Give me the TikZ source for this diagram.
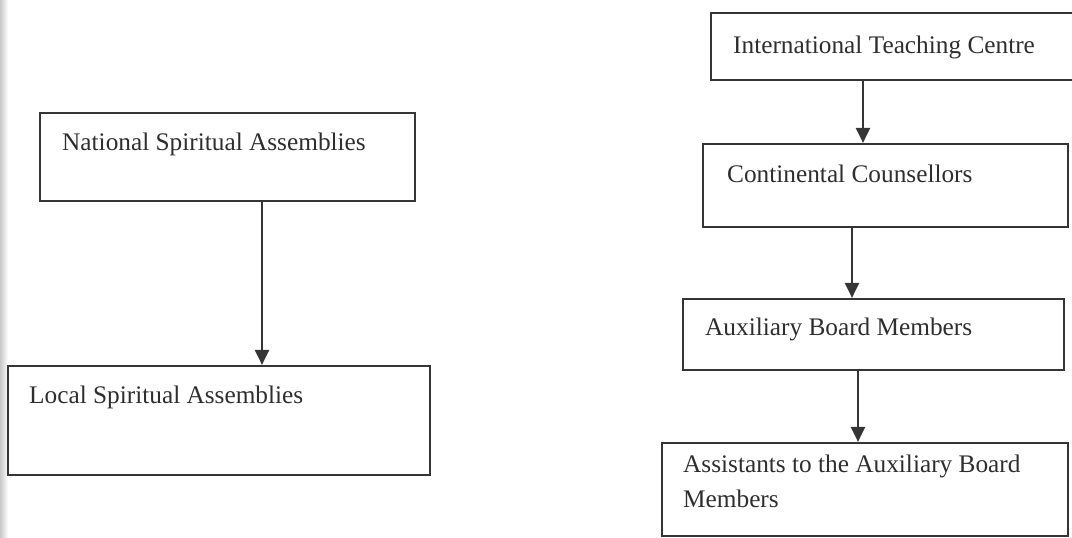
\documentclass[tikz,border=0pt]{standalone}
\usepackage{fontspec}
\setmainfont{Liberation Serif}
\usetikzlibrary{arrows.meta}
\definecolor{ink}{HTML}{353535}
\definecolor{txtc}{HTML}{2E2E2E}
\definecolor{edge}{HTML}{C8C8C8}
\begin{document}
\begin{tikzpicture}[x=1pt,y=-1pt,
  box/.style={draw=ink,line width=2.2pt,inner sep=0pt,fill=none},
  lbl/.style={inner sep=0pt,anchor=base west,text=txtc,font=\fontsize{25.3}{35}\selectfont,align=left},
  arr/.style={draw=ink,line width=2.2pt,-{Triangle[length=15pt,width=14pt]}}]
\useasboundingbox (0,0) rectangle (1072,538);
\clip (0,0) rectangle (1072,538);
\shade[left color=edge,right color=white] (0,0) rectangle (8,538);
% boxes
\node[box,minimum width=375pt,minimum height=88pt] (nat) at (227.5,157) {};
\node[box,minimum width=422pt,minimum height=109pt] (loc) at (219,420.5) {};
\node[box,minimum width=369pt,minimum height=67pt] (itc) at (895.5,46.5) {};
\node[box,minimum width=365pt,minimum height=83pt] (cc) at (885.5,185.5) {};
\node[box,minimum width=381pt,minimum height=71pt] (aux) at (873.5,334.5) {};
\node[box,minimum width=406pt,minimum height=93pt] (asst) at (865,489.5) {};
% texts
\node[lbl] (natt) at (62,150) {National Spiritual Assemblies};
\node[lbl] (loct) at (29,403) {Local Spiritual Assemblies};
\node[lbl] (itct) at (733,53) {International Teaching Centre};
\node[lbl] (cct) at (727,182) {Continental Counsellors};
\node[lbl] (auxt) at (705,335) {Auxiliary Board Members};
\node[lbl] (asstt) at (683,507) {Assistants to the Auxiliary Board\\Members};
% connectors
\draw[arr] ([xshift=34.5pt]nat.south) -- ([xshift=34.5pt]nat.south |- loc.north);
\draw[arr] ([xshift=-32.5pt]itc.south) -- ([xshift=-32.5pt]itc.south |- cc.north);
\draw[arr] ([xshift=-33.5pt]cc.south) -- ([xshift=-33.5pt]cc.south |- aux.north);
\draw[arr] ([xshift=-15.5pt]aux.south) -- ([xshift=-15.5pt]aux.south |- asst.north);
\end{tikzpicture}
\end{document}
